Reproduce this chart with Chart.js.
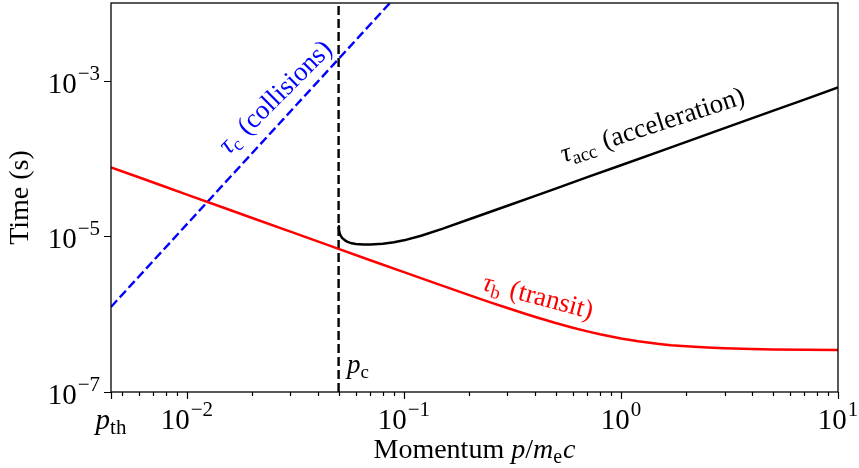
<!DOCTYPE html>
<html>
<head>
<meta charset="utf-8">
<script src="https://cdn.jsdelivr.net/npm/chart.js@4/dist/chart.umd.min.js"></script>
<style>
  html, body { margin: 0; padding: 0; background: #fff; }
  #c { display: block; }
</style>
</head>
<body>
<canvas id="c" width="859" height="468"></canvas>
<script>
// ---- data ----
const pTh = 0.00447;          // left edge of momentum axis (p_th)
const pMax = 10;
const tauMin = 1e-7;
const tauMax = 1e-2;
const pCrit = 0.05;           // p_c

const pTransit   = [0.00447, 0.006, 0.008, 0.01, 0.015, 0.02, 0.03, 0.05, 0.07, 0.1, 0.15, 0.2, 0.25, 0.3, 0.35, 0.4, 0.5, 0.6, 0.7, 0.8, 0.9, 1.0, 1.2, 1.5, 1.7, 2, 2.5, 3, 4, 5, 7, 10];
const tauTransit = [7.72e-5, 5.75e-5, 4.31e-5, 3.45e-5, 2.30e-5, 1.725e-5, 1.15e-5, 6.91e-6, 4.94e-6, 3.47e-6, 2.33e-6, 1.76e-6, 1.42e-6, 1.20e-6, 1.044e-6, 9.29e-7, 7.71e-7, 6.71e-7, 6.02e-7, 5.52e-7, 5.16e-7, 4.88e-7, 4.49e-7, 4.15e-7, 4.0e-7, 3.86e-7, 3.72e-7, 3.64e-7, 3.56e-7, 3.52e-7, 3.485e-7, 3.46e-7];

const pAcc   = [0.05, 0.0502, 0.0506, 0.051, 0.052, 0.0535, 0.055, 0.0575, 0.06, 0.065, 0.07, 0.08, 0.09, 0.1, 0.12, 0.15, 0.2, 0.3, 0.4, 0.5, 0.7, 1, 1.5, 2, 3, 5, 7, 10];
const tauAcc = [1.35e-5, 1.2e-5, 1.1e-5, 1.03e-5, 9.5e-6, 8.9e-6, 8.5e-6, 8.15e-6, 8.0e-6, 7.85e-6, 7.85e-6, 8.05e-6, 8.4e-6, 8.9e-6, 1.02e-5, 1.25e-5, 1.66e-5, 2.48e-5, 3.3e-5, 4.12e-5, 5.77e-5, 8.22e-5, 1.23e-4, 1.64e-4, 2.46e-4, 4.1e-4, 5.74e-4, 8.2e-4];

const pColl   = [0.00447, 0.0862];
const tauColl = [1.24e-6, 1.0e-2];

const xMajorTicks = [0.01, 0.1, 1, 10];
const xMajorExp   = ['−2', '−1', '0', '1'];
const yMajorTicks = [1e-7, 1e-5, 1e-3];
const yMajorExp   = ['−7', '−5', '−3'];

// ---- helpers ----
const FAM = '"Liberation Serif", "DejaVu Serif", serif';
const rm = s => `${s}px ${FAM}`;
const it = s => `italic ${s}px ${FAM}`;
const zip = (xs, ys) => xs.map((x, i) => ({ x: x, y: ys[i] }));

function richWidth(ctx, parts) {
  let w = 0;
  for (const p of parts) { ctx.font = p.font; w += ctx.measureText(p.text).width + (p.dx || 0); }
  return w;
}
function drawRich(ctx, parts, x, y, align, angle, color) {
  ctx.save();
  ctx.translate(x, y);
  ctx.rotate(angle || 0);
  ctx.fillStyle = color || '#000';
  ctx.textBaseline = 'alphabetic';
  ctx.textAlign = 'left';
  const w = richWidth(ctx, parts);
  let cx = align === 'center' ? -w / 2 : (align === 'right' ? -w : 0);
  for (const p of parts) {
    ctx.font = p.font;
    cx += (p.dx || 0);
    ctx.fillText(p.text, cx, p.dy || 0);
    cx += ctx.measureText(p.text).width;
  }
  ctx.restore();
}
const pow10 = e => [
  { text: '10', font: rm(29) },
  { text: e, font: rm(21), dy: -13, dx: 1 }
];

const deg = a => a * Math.PI / 180;

const decor = {
  id: 'decor',
  afterDraw(chart) {
    const ctx = chart.ctx;
    const a = chart.chartArea;
    const xs = chart.scales.x, ys = chart.scales.y;
    ctx.save();
    // frame
    ctx.strokeStyle = '#000';
    ctx.lineWidth = 1.3;
    ctx.strokeRect(a.left, a.top, a.right - a.left, a.bottom - a.top);

    // ticks
    ctx.lineWidth = 1.2;
    ctx.beginPath();
    const majX = [pTh].concat(xMajorTicks);
    majX.forEach(v => { const px = Math.round(xs.getPixelForValue(v)) + 0.5; ctx.moveTo(px, a.bottom); ctx.lineTo(px, a.bottom + 7); });
    for (let d = -3; d <= 0; d++) {
      for (let m = 2; m <= 9; m++) {
        const v = m * Math.pow(10, d);
        if (v <= pTh || v >= pMax) continue;
        const px = Math.round(xs.getPixelForValue(v)) + 0.5;
        ctx.moveTo(px, a.bottom); ctx.lineTo(px, a.bottom + 4);
      }
    }
    yMajorTicks.forEach(v => { const py = Math.round(ys.getPixelForValue(v)) + 0.5; ctx.moveTo(a.left, py); ctx.lineTo(a.left - 7, py); });
    ctx.stroke();

    // x tick labels
    xMajorTicks.forEach((v, i) => {
      drawRich(ctx, pow10(xMajorExp[i]), xs.getPixelForValue(v), a.bottom + 37, 'center', 0, '#000');
    });
    drawRich(ctx, [{ text: 'p', font: it(29) }, { text: 'th', font: rm(21), dy: 5 }], xs.getPixelForValue(pTh), a.bottom + 37, 'center', 0, '#000');

    // y tick labels
    yMajorTicks.forEach((v, i) => {
      drawRich(ctx, pow10(yMajorExp[i]), a.left - 11, ys.getPixelForValue(v) + 12, 'right', 0, '#000');
    });

    // axis titles
    drawRich(ctx, [
      { text: 'Momentum ', font: rm(28) },
      { text: 'p', font: it(28) },
      { text: '/', font: rm(28) },
      { text: 'm', font: it(28) },
      { text: 'e', font: rm(20), dy: 5 },
      { text: 'c', font: it(28), dx: 1 }
    ], (a.left + a.right) / 2, 458, 'center', 0, '#000');
    drawRich(ctx, [{ text: 'Time (s)', font: rm(28) }], 28, (a.top + a.bottom) / 2, 'center', -Math.PI / 2, '#000');

    // curve annotations
    drawRich(ctx, [
      { text: 'τ', font: it(27) }, { text: 'c', font: rm(19), dy: 5 },
      { text: ' (collisions)', font: rm(27), dx: 2 }
    ], xs.getPixelForValue(0.0271), ys.getPixelForValue(5.2e-4), 'center', deg(-45), '#0000ff');

    drawRich(ctx, [
      { text: 'τ', font: it(27) }, { text: 'acc', font: rm(19), dy: 5 },
      { text: ' (acceleration)', font: rm(27), dx: 2 }
    ], xs.getPixelForValue(1.435), ys.getPixelForValue(2.15e-4), 'center', deg(-18), '#000');

    drawRich(ctx, [
      { text: 'τ', font: it(27) }, { text: 'b', font: rm(19), dy: 5 },
      { text: ' (transit)', font: rm(27), dx: 2 }
    ], xs.getPixelForValue(0.406), ys.getPixelForValue(1.34e-6), 'center', deg(15), '#ff0000');

    drawRich(ctx, [{ text: 'p', font: it(27) }, { text: 'c', font: rm(19), dy: 5 }],
      xs.getPixelForValue(0.0546), ys.getPixelForValue(1.75e-7), 'left', 0, '#000');

    ctx.restore();
  }
};

new Chart(document.getElementById('c'), {
  type: 'scatter',
  data: {
    datasets: [
      { label: 'tau_b', data: zip(pTransit, tauTransit), showLine: true, borderColor: '#ff0000', borderWidth: 2.5, pointRadius: 0, tension: 0, borderJoinStyle: 'round' },
      { label: 'tau_acc', data: zip(pAcc, tauAcc), showLine: true, borderColor: '#000000', borderWidth: 2.5, pointRadius: 0, tension: 0, borderJoinStyle: 'round' },
      { label: 'tau_c', data: zip(pColl, tauColl), showLine: true, borderColor: '#0000ff', borderWidth: 2.4, borderDash: [9, 4], pointRadius: 0 },
      { label: 'p_c', data: [{ x: pCrit, y: tauMin }, { x: pCrit, y: tauMax }], showLine: true, borderColor: '#000000', borderWidth: 2.4, borderDash: [9, 4], pointRadius: 0 }
    ]
  },
  options: {
    responsive: false,
    animation: false,
    devicePixelRatio: 1,
    layout: { padding: { left: 111, right: 21, top: 3, bottom: 76 } },
    plugins: { legend: { display: false }, tooltip: { enabled: false } },
    scales: {
      x: { type: 'logarithmic', min: pTh, max: pMax, display: false },
      y: { type: 'logarithmic', min: tauMin, max: tauMax, display: false }
    }
  },
  plugins: [decor]
});
</script>
</body>
</html>
